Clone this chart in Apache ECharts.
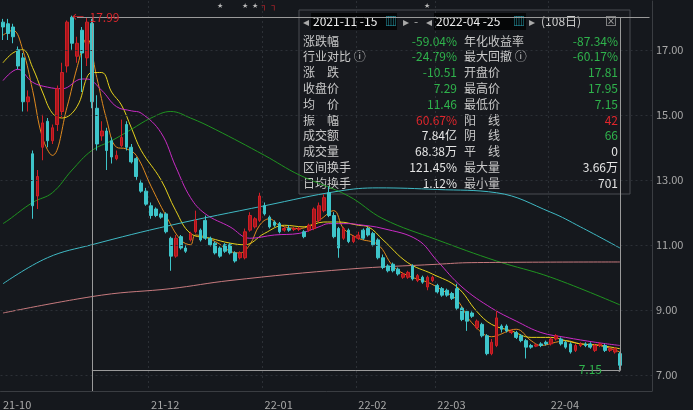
<!DOCTYPE html>
<html><head><meta charset="utf-8">
<script src="https://cdn.jsdelivr.net/npm/echarts@6/dist/echarts.min.js"></script>
<style>html,body{margin:0;padding:0;background:#15181d;}#c{width:693px;height:410px;}</style>
</head><body><div id="c"></div>
<script>
// [open, close, low, high]
const ohlc = [
[17.85,17.7,17.3,17.95],[17.8,17.5,17.3,17.95],[17.7,17.4,17.2,17.8],[17.0,16.5,16.4,17.1],[16.75,15.4,15.1,16.9],
[15.4,15.55,15.1,15.75],[13.8,12.2,11.8,13.9],[12.5,13.1,12.1,13.3],[14.0,14.75,13.6,15.0],[14.8,14.2,14.0,14.9],
[14.2,14.6,14.1,14.7],[14.7,15.8,14.5,15.9],[15.1,16.3,14.9,16.6],[16.5,17.85,16.3,17.9],[18.0,17.2,17.0,18.05],
[16.8,17.2,16.6,17.4],[17.6,16.9,15.7,17.7],[16.75,17.85,16.5,17.99],[17.81,15.4,15.2,17.95],[15.2,14.1,13.9,15.6],
[14.35,14.5,14.2,14.8],[14.5,13.9,13.3,14.6],[14.2,13.7,13.5,14.3],[13.65,13.75,13.6,13.9],[14.05,14.3,14.0,14.85],
[14.7,14.0,13.9,14.8],[14.0,13.55,13.5,14.1],[13.65,13.1,13.0,13.7],[12.9,12.65,12.6,13.0],[12.65,12.25,12.2,12.75],
[12.2,11.9,11.8,12.3],[12.1,11.9,11.85,12.15],[11.95,11.85,11.8,12.0],[11.95,11.4,11.35,12.0],[11.2,10.65,10.2,11.25],
[10.65,11.2,10.6,11.3],[11.25,10.9,10.85,11.3],[10.9,10.8,10.75,11.0],[11.15,11.35,11.1,11.4],[11.4,11.75,11.35,12.05],
[11.45,11.15,11.1,11.5],[11.75,11.2,11.15,11.9],[11.2,11.0,10.95,11.25],[11.05,10.75,10.7,11.1],[10.9,10.65,10.6,10.95],
[11.0,10.8,10.75,11.05],[11.0,10.75,10.7,11.05],[10.75,10.5,10.45,10.8],[10.6,10.75,10.55,10.8],[10.6,11.4,10.55,11.5],
[11.45,11.9,11.4,12.0],[11.55,11.8,11.5,11.85],[11.75,12.5,11.7,12.6],[12.2,11.95,11.9,12.3],[11.85,11.55,11.5,11.9],
[11.7,11.6,11.55,11.75],[11.65,11.4,11.35,11.7],[11.45,11.5,11.4,11.55],[11.5,11.45,11.4,11.6],[11.47,11.5,11.42,11.55],
[11.47,11.5,11.42,11.55],[11.4,11.25,11.2,11.45],[11.45,11.6,11.4,11.65],[11.5,12.1,11.45,12.15],[11.75,12.2,11.7,12.3],
[12.05,12.45,12.0,12.55],[12.6,11.9,11.85,12.8],[11.9,11.25,11.2,12.0],[11.5,10.9,10.6,11.55],[11.2,11.5,11.15,11.55],
[11.45,11.1,11.05,11.5],[11.1,11.25,11.05,11.3],[11.2,11.3,11.15,11.4],[11.45,11.2,11.15,11.5],[11.5,11.3,11.25,11.55],
[11.35,11.0,10.95,11.4],[11.15,10.6,10.55,11.2],[10.6,10.3,10.25,10.7],[10.35,10.2,10.15,10.4],[10.4,10.2,10.15,10.45],
[10.25,10.1,10.05,10.3],[10.0,10.1,9.95,10.15],[10.0,10.15,9.95,10.2],[10.35,9.95,9.9,10.4],[9.9,10.05,9.85,10.1],
[10.0,9.85,9.8,10.05],[9.7,10.0,9.6,10.05],[9.9,10.0,9.85,10.05],[9.75,9.55,9.5,9.8],[9.65,9.45,9.4,9.7],
[9.6,9.45,9.4,9.65],[9.5,9.35,9.3,9.55],[9.65,9.05,9.0,9.8],[9.05,8.7,8.65,9.1],[8.95,8.65,8.35,9.0],
[8.9,8.8,8.75,8.95],[8.45,8.65,8.4,8.7],[8.55,8.2,8.15,8.6],[8.2,7.65,7.6,8.25],[7.65,8.0,7.6,8.1],
[7.9,8.75,7.85,9.0],[8.5,8.4,8.3,8.55],[8.5,8.35,8.3,8.55],[8.3,8.35,8.25,8.4],[8.3,8.15,8.1,8.35],
[8.2,8.05,8.0,8.25],[8.05,7.85,7.5,8.1],[7.9,7.85,7.8,7.95],[7.88,7.92,7.85,7.95],[7.95,7.9,7.85,8.0],
[8.0,7.95,7.9,8.05],[7.95,8.1,7.9,8.15],[8.1,8.2,8.05,8.25],[8.1,7.95,7.9,8.15],[8.0,7.85,7.8,8.05],
[7.95,7.7,7.65,8.0],[7.75,7.9,7.7,7.95],[7.9,7.95,7.85,8.0],[7.95,7.9,7.85,8.0],[7.95,7.85,7.8,8.0],
[7.75,7.9,7.7,7.95],[7.9,7.95,7.85,8.0],[7.9,7.75,7.7,7.95],[7.75,7.8,7.7,7.85],[7.7,7.8,7.65,7.85],
[7.65,7.29,7.15,7.7]
];
// moving averages: [index, value]
const ma5 = [[0,17.45],[2,17.6],[4,17.0],[6,15.75],[8,14.3],[10,13.75],[13,15.25],[15,16.45],[17,17.35],[19,16.15],[21,14.85],[23,14.0],[25,13.95],[27,13.75],[30,12.8],[33,11.9],[36,11.15],[38,11.0],[39,11.3],[43,11.1],[46,10.8],[48,10.75],[50,11.0],[52,11.6],[54,11.8],[56,11.6],[60,11.5],[64,11.75],[67,12.05],[69,11.5],[72,11.2],[76,11.0],[79,10.35],[82,10.05],[86,9.85],[89,9.6],[92,9.3],[95,8.6],[99,8.17],[100,8.2],[104,8.4],[107,8.05],[109,7.9],[112,8.0],[114,8.05],[117,7.95],[121,7.9],[125,7.7]];
const ma10 = [[0,16.6],[2,16.9],[4,17.0],[6,16.45],[8,15.7],[10,15.05],[12,14.9],[15,15.25],[17,16.15],[18,16.3],[20,16.3],[22,15.7],[24,15.3],[26,14.6],[28,13.9],[32,13.0],[35,12.05],[38,11.35],[42,11.2],[46,11.05],[49,11.0],[53,11.35],[57,11.6],[61,11.55],[65,11.7],[68,11.7],[72,11.6],[74,11.55],[77,11.15],[82,10.45],[87,10.1],[92,9.7],[96,8.95],[99,8.55],[103,8.35],[107,8.15],[111,8.15],[114,8.05],[117,7.95],[121,7.9],[125,7.8]];
const ma20 = [[0,16.05],[3,16.4],[6,16.0],[9,15.85],[12,15.8],[16,16.1],[17,16.1],[20,15.75],[23,15.25],[26,15.12],[28,15.05],[32,14.45],[35,13.4],[38,12.45],[41,11.95],[46,11.55],[50,11.2],[55,11.3],[60,11.35],[64,11.55],[66,11.65],[70,11.65],[72,11.62],[77,11.5],[84,11.15],[88,10.5],[93,9.7],[99,9.05],[104,8.65],[109,8.3],[114,8.15],[120,8.0],[125,7.9]];
const ma60 = [[0,11.65],[1,11.75],[6,12.3],[10,12.6],[14,13.3],[18,13.9],[22,14.2],[26,14.55],[30,14.9],[34,15.1],[38,14.9],[43,14.55],[53,13.75],[60,13.15],[70,12.5],[77,11.8],[88,11.15],[100,10.5],[111,10.0],[125,9.15]];
const ma120 = [[0,9.8],[9,10.6],[18,11.0],[34,11.6],[53,12.2],[68,12.65],[76,12.75],[88,12.7],[100,12.6],[111,12.0],[117,11.55],[125,10.9]];
const ma250 = [[0,8.9],[20,9.45],[34,9.65],[46,9.9],[70,10.25],[88,10.4],[95,10.45],[125,10.47]];
const holidays = ['2022-01-03','2022-01-31','2022-02-01','2022-02-02','2022-02-03','2022-02-04','2022-04-04','2022-04-05'];
const yTicks = [7,9,11,13,15,17];
const padCount = 6;

const dates = [];
for (let t = Date.UTC(2021,9,20); t <= Date.UTC(2022,3,25); t += 86400000) {
  const d = new Date(t), wd = d.getUTCDay();
  const s = d.toISOString().slice(0,10);
  if (wd === 0 || wd === 6 || holidays.includes(s)) continue;
  dates.push(s);
}
for (let i=0;i<padCount;i++) dates.push('');
const monthStart = dates.map((d,i)=> d && (i===0 || d.slice(0,7)!==dates[i-1].slice(0,7)) && d.slice(5,7)!=='11');

const chart = echarts.init(document.getElementById('c'));
const FONT = '"Noto Sans CJK SC", "Noto Sans", sans-serif';
const lineS = (name, data, color) => ({type:'line', name, data, smooth:0.4, showSymbol:false, symbol:'none', connectNulls:true, lineStyle:{color, width:1}, silent:true, z:3});

const rows = [
 ['涨跌幅','-59.04%','g','年化收益率','-87.34%','g'],
 ['行业对比 ⓘ','-24.79%','g','最大回撤 ⓘ','-60.17%','g'],
 ['涨　跌','-10.51','g','开盘价','17.81','g'],
 ['收盘价','7.29','g','最高价','17.95','g'],
 ['均　价','11.46','g','最低价','7.15','g'],
 ['振　幅','60.67%','r','阳　线','42','r'],
 ['成交额','7.84亿','w','阴　线','66','g'],
 ['成交量','68.38万','w','平　线','0','w'],
 ['区间换手','121.45%','w','最大量','3.66万','w'],
 ['日均换手','1.12%','w','最小量','701','w']
];
const col = {g:'#2fb34c', r:'#e0262c', w:'#e6e6e6'};
const panel = [{type:'rect', shape:{x:299,y:10,width:331,height:184}, style:{fill:'#17191e', stroke:'#4a4d52', lineWidth:1}}];
panel.push({type:'rect', shape:{x:311,y:13,width:86,height:17}, style:{fill:'#050607'}});
panel.push({type:'rect', shape:{x:434,y:13,width:92,height:17}, style:{fill:'#050607'}});
const hdr = [[303,'◂','#aaa'],[313,'2021-11 -15','#eee'],[385,'▥','#2aa8b8'],[403,'▸','#aaa'],[414,'-','#aaa'],[426,'◂','#aaa'],[436,'2022-04 -25','#eee'],[513,'▥','#2aa8b8'],[529,'▸','#aaa'],[541,'(108日)','#ccc'],[605,'⊠','#999']];
hdr.forEach(h=>panel.push({type:'text', x:h[0], y:21, style:{text:h[1], fill:h[2], font:'12px '+FONT, verticalAlign:'middle'}}));
rows.forEach((r,i)=>{
  const y = 41 + i*15.8;
  panel.push({type:'text', x:303, y, style:{text:r[0], fill:'#c9c9c9', font:'12px '+FONT, verticalAlign:'middle'}});
  panel.push({type:'text', x:457, y, style:{text:r[1], fill:col[r[2]], font:'12px '+FONT, align:'right', verticalAlign:'middle'}});
  panel.push({type:'text', x:464, y, style:{text:r[3], fill:'#c9c9c9', font:'12px '+FONT, verticalAlign:'middle'}});
  panel.push({type:'text', x:618, y, style:{text:r[4], fill:col[r[5]], font:'12px '+FONT, align:'right', verticalAlign:'middle'}});
});

const gray = '#9a9a9a';
chart.setOption({
  backgroundColor:'#15181d',
  animation:false,
  grid:{left:0, right:41, top:1, bottom:19},
  xAxis:{type:'category', data:dates, boundaryGap:true,
    axisLine:{lineStyle:{color:'#3a3d42'}}, axisTick:{show:false},
    axisLabel:{color:'#a8a8a8', fontSize:11, fontFamily:FONT, align:'left', interval:(i)=>monthStart[i], formatter:(v)=>v?v.slice(2,7):''},
    splitLine:{show:true, interval:(i)=>monthStart[i] && i>0, lineStyle:{color:'#2c3036', type:[2,3]}}},
  yAxis:{type:'value', min:6.5, max:18.5, position:'right', splitLine:{show:false}, axisLabel:{show:false}, axisTick:{show:false},
    axisLine:{show:true, lineStyle:{color:'#3a3d42'}}},
  graphic:panel,
  series:[
    {type:'candlestick', data:ohlc, barWidth:3.2, z:4,
     itemStyle:{color:'#a8151b', color0:'#3ec5ca', borderColor:'#cf1f26', borderColor0:'#3ec5ca', borderWidth:1},
     markLine:{silent:true, symbol:'none', animation:false,
       lineStyle:{color:'#2c3036', type:[2,3], width:1},
       label:{show:true, position:'end', color:'#a8a8a8', fontSize:11, fontFamily:FONT, formatter:(p)=>p.value.toFixed(2), distance:4},
       data: yTicks.map(v=>({yAxis:v}))
        .concat([
          [{coord:[14.6,17.99], lineStyle:{color:gray,type:'solid'}, label:{show:false}},{coord:[131,17.99]}],
          [{coord:[18,7.15], lineStyle:{color:gray,type:'solid'}, label:{show:false}},{coord:[125,7.15]}],
          [{coord:[18,17.99], lineStyle:{color:gray,type:'solid'}, label:{show:false}},{coord:[18,6.5]}],
          [{coord:[125,17.99], lineStyle:{color:gray,type:'solid'}, label:{show:false}},{coord:[125,7.15]}]
        ])},
     markPoint:{silent:true, symbol:'circle', symbolSize:0, animation:false,
       data:[
        {coord:[14.2,17.99], label:{show:true, position:'right', distance:0, formatter:'←  17.99', color:'#d8262c', fontSize:12, fontFamily:FONT}},
        {coord:[119,7.15], label:{show:true, position:'inside', formatter:'7.15', color:'#2fb34c', fontSize:12, fontFamily:FONT}},
        {coord:[125,7.15], label:{show:true, position:'inside', formatter:'›', color:gray, fontSize:11}},
        {coord:[44,18.35], label:{show:true, position:'inside', formatter:'★', color:'#b8b8b8', fontSize:7}},
        {coord:[49,18.35], label:{show:true, position:'inside', formatter:'★', color:'#b8b8b8', fontSize:7}},
        {coord:[51,18.35], label:{show:true, position:'inside', formatter:'★', color:'#b8b8b8', fontSize:7}},
        {coord:[52.5,18.35], label:{show:true, position:'inside', formatter:'┐', color:'#d8262c', fontSize:8}},
        {coord:[54.5,18.35], label:{show:true, position:'inside', formatter:'┐', color:'#d8262c', fontSize:8}},
        {coord:[86,18.35], label:{show:true, position:'inside', formatter:'★', color:'#b8b8b8', fontSize:7}}
       ]}
    },
    lineS('MA5', ma5, '#e08a1e'),
    lineS('MA10', ma10, '#e6d21c'),
    lineS('MA20', ma20, '#c92bc4'),
    lineS('MA60', ma60, '#1f9420'),
    lineS('MA120', ma120, '#3fb9c4'),
    lineS('MA250', ma250, '#c77a7e')
  ]
});
</script></body></html>
